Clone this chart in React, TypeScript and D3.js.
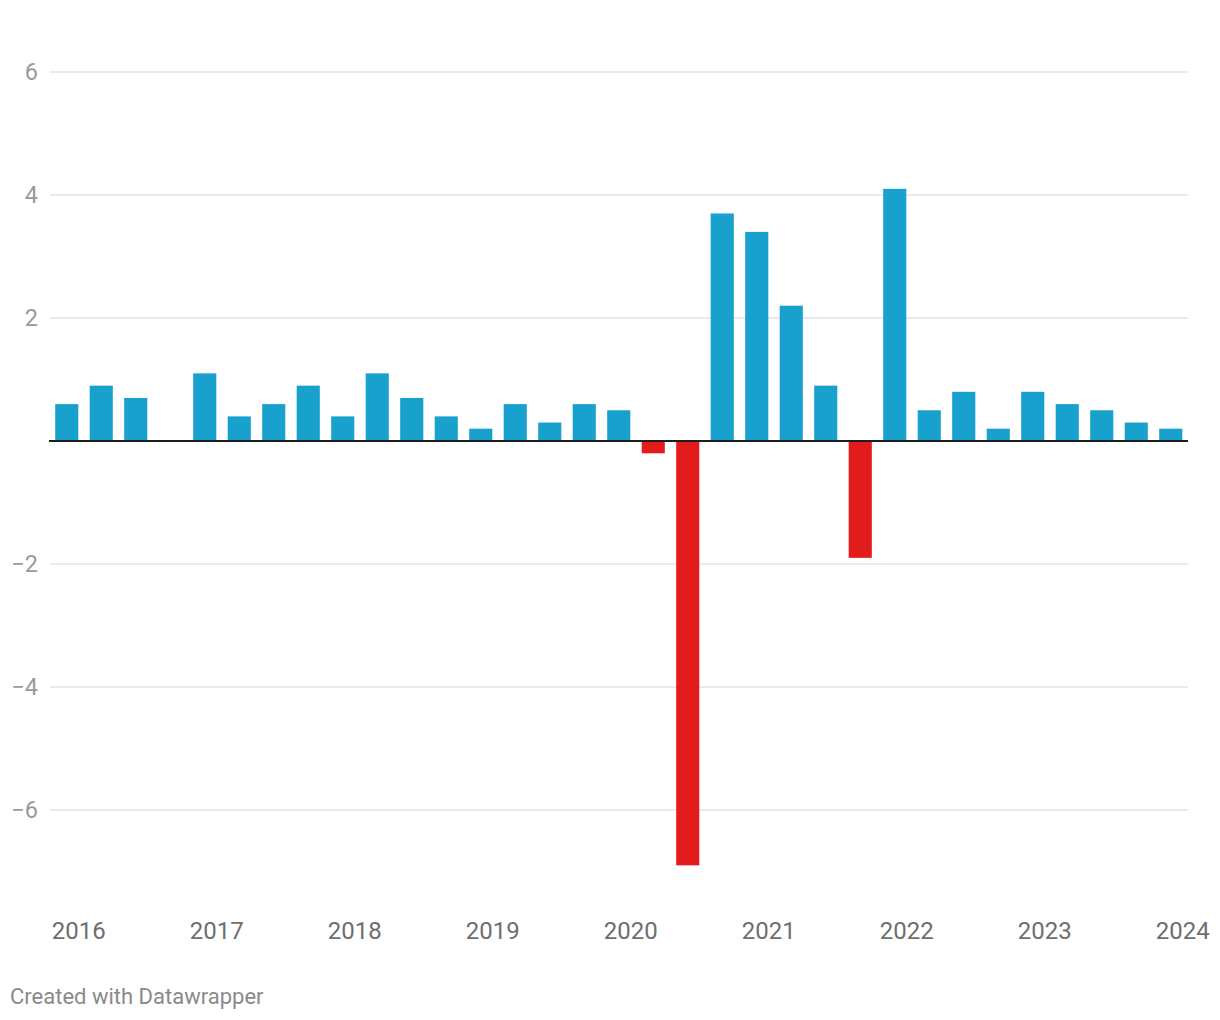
import React from "react";
import * as d3 from "d3";

const quarters: string[] = [
  "2016 Q1","2016 Q2","2016 Q3","2016 Q4",
  "2017 Q1","2017 Q2","2017 Q3","2017 Q4",
  "2018 Q1","2018 Q2","2018 Q3","2018 Q4",
  "2019 Q1","2019 Q2","2019 Q3","2019 Q4",
  "2020 Q1","2020 Q2","2020 Q3","2020 Q4",
  "2021 Q1","2021 Q2","2021 Q3","2021 Q4",
  "2022 Q1","2022 Q2","2022 Q3","2022 Q4",
  "2023 Q1","2023 Q2","2023 Q3","2023 Q4",
  "2024 Q1",
];
const values: number[] = [
  0.6, 0.9, 0.7, 0,
  1.1, 0.4, 0.6, 0.9,
  0.4, 1.1, 0.7, 0.4,
  0.2, 0.6, 0.3, 0.6,
  0.5, -0.2, -6.9, 3.7,
  3.4, 2.2, 0.9, -1.9,
  4.1, 0.5, 0.8, 0.2,
  0.8, 0.6, 0.5, 0.3,
  0.2,
];
const yTicks: number[] = [6, 4, 2, -2, -4, -6];
const yearLabels: string[] = ["2016","2017","2018","2019","2020","2021","2022","2023","2024"];

const W = 1220;
const H = 1020;
const FONT = "Roboto, 'Noto Sans', sans-serif";

export default function App() {
  const x = d3.scaleBand<string>()
    .domain(quarters)
    .range([49.5, 1188])
    .paddingInner(0.33)
    .paddingOuter(0.165);
  const y = d3.scaleLinear().domain([-6, 6]).range([810, 72]);
  const bw = x.bandwidth();

  return (
    <svg width={W} height={H} style={{ position: "absolute", left: 0, top: 0, background: "#fff" }}>
      {yTicks.map((t) => (
        <g key={t}>
          <line x1={50} x2={1188} y1={y(t)} y2={y(t)} stroke="#e3e3e3" strokeWidth={1.5} />
          <text x={38} y={y(t)} dy="0.35em" textAnchor="end" fontFamily={FONT} fontSize={23.5} fill="#9a9a9a">
            {t < 0 ? "\u2212" + Math.abs(t) : String(t)}
          </text>
        </g>
      ))}
      {quarters.map((q, i) => {
        const v = values[i];
        if (v === 0) return null;
        const y0 = y(0);
        const y1 = y(v);
        return (
          <rect key={q} x={x(q)} y={Math.min(y0, y1)} width={bw} height={Math.abs(y1 - y0)}
            fill={v < 0 ? "#e21c1d" : "#18a1cd"} />
        );
      })}
      <line x1={49} x2={1188} y1={y(0)} y2={y(0)} stroke="#1d1d1d" strokeWidth={2} />
      {yearLabels.map((yr) => {
        const q = yr + " Q1";
        const cx = (x(q) as number) + bw / 2 + 12;
        return (
          <text key={yr} x={cx} y={938.5} textAnchor="middle" fontFamily={FONT} fontSize={24} fill="#6e6e6e">
            {yr}
          </text>
        );
      })}
      <text x={10} y={1004} fontFamily={FONT} fontSize={22} fill="#8a8a8a">Created with Datawrapper</text>
    </svg>
  );
}
